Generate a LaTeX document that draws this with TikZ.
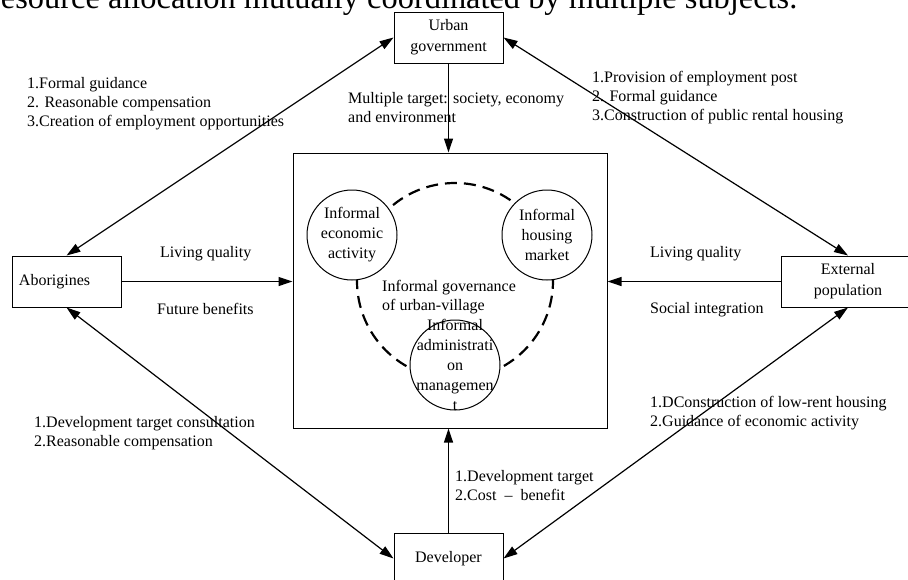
\documentclass[tikz,border=0pt]{standalone}
\usepackage{fontspec}
\setmainfont{Liberation Serif}
\usetikzlibrary{arrows.meta,shapes}
\newcommand{\notefont}{\fontsize{16}{19}\selectfont}
\tikzstyle{actor}=[draw,line width=1pt,minimum width=109pt,minimum height=51pt,inner sep=0pt,align=center,font=\fontsize{16}{21}\selectfont]
\tikzstyle{field}=[draw,line width=1pt,minimum width=314pt,minimum height=275pt,inner sep=0pt]
\tikzstyle{ring}=[circle,draw,line width=2.2pt,dash pattern=on 12pt off 7pt,minimum size=196pt,inner sep=0pt]
\tikzstyle{informal}=[circle,draw,fill=white,line width=1pt,minimum size=90pt,inner sep=0pt]
\tikzstyle{informal text}=[align=center,inner sep=0pt,font=\fontsize{16}{20}\selectfont]
\tikzstyle{note}=[anchor=west,align=left,inner sep=0pt,font=\notefont]
\tikzstyle{link}=[draw,line width=1.2pt,-{Triangle[length=14pt,width=9pt]}]
\tikzstyle{both link}=[link,{Triangle[length=14pt,width=9pt]}-{Triangle[length=14pt,width=9pt]}]

\begin{document}
\begin{tikzpicture}[x=1pt,y=-1pt]
    \useasboundingbox (0,0) rectangle (908,579);
    \clip (0,0) rectangle (908,579);
    % Caption line, cut at the top of the figure
    \node[anchor=base west,inner sep=0pt,font=\fontsize{32.4}{36}\selectfont] (caption) at (-10,8) {resource allocation mutually coordinated by multiple subjects.};

    % First we draw the subjects
    \foreach \pos/\name/\lbl in {{(448.5,37.5)/urban/{Urban\\government}}, {(448.5,558.5)/developer/{Developer}}}
        \node[actor] (\name) at \pos {\lbl};
    \node[actor,minimum width=134pt] (external) at (848,281.5) {External\\population};
    \node[actor,text width=95pt,align=left,inner sep=7pt] (aborigines) at (66.5,281.5) {Aborigines};

    % The urban village in the middle
    \node[field] (village) at (450,290.5) {};
    \node[ring] (governance) at (455,281) {};
    \foreach \pos/\name/\lbl in {{(352,235)/econ/{Informal\\economic\\activity}}, {(547,235)/housing/{Informal\\housing\\market}}, {(455,365)/admin/{Informal\\administrati\\on\\managemen\\t}}}
        \node[informal,label={[informal text]center:\lbl}] (\name) at \pos {};
    \node[note] (governance text) at (382,297.5) {Informal governance\\of urban-village};

    % Connect subjects with the village
    \foreach \source/\dest in {urban/village.north -| urban, developer/village.south -| developer, aborigines/village.west |- aborigines, external/village.east |- external}
        \path[link] (\source) -- (\dest);
    % Connect subjects with each other
    \foreach \source/\dest in {urban.west/aborigines.north, urban.east/external.north, aborigines.south/developer.west, external.south/developer.east}
        \path[both link] (\source) -- (\dest);

    % Labels of the connectors
    \foreach \pos/\name/\lbl in {{(27,104)/ua note/{1.Formal guidance\\2. Reasonable compensation\\3.Creation of employment opportunities}},
            {(592,98)/ue note/{1.Provision of employment post\\2. Formal guidance\\3.Construction of public rental housing}},
            {(348,107.5)/uv note/{Multiple target: society, economy\\and environment}},
            {(34,433.5)/ad note/{1.Development target consultation\\2.Reasonable compensation}},
            {(650,413.5)/ed note/{1.DConstruction of low-rent housing\\2.Guidance of economic activity}},
            {(455,486)/dv note/{1.Development target\\2.Cost \ – \ benefit}},
            {(160,254)/av living/{Living quality}}, {(157,309)/av future/{Future benefits}},
            {(650,254)/ev living/{Living quality}}, {(650,310)/ev social/{Social integration}}}
        \node[note] (\name) at \pos {\lbl};
\end{tikzpicture}
\end{document}
